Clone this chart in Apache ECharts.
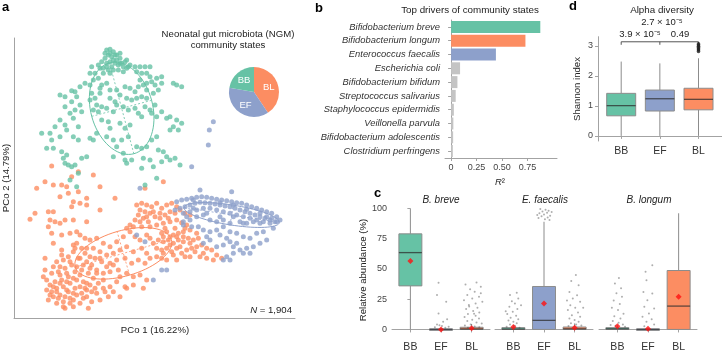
<!DOCTYPE html>
<html>
<head>
<meta charset="utf-8">
<script src="https://cdn.jsdelivr.net/npm/echarts@6/dist/echarts.min.js"></script>
<style>
  html, body { margin: 0; padding: 0; background: #fff; }
  #chart { width: 722px; height: 350px; }
</style>
</head>
<body>
<div id="chart"></div>
<script>
var GREEN = '#66C2A5', ORANGE = '#FC8D62', PURPLE = '#8DA0CB';
var states = ['BB', 'EF', 'BL'];
var stateColors = [GREEN, PURPLE, ORANGE];

// ---- a: PCoA ----
var pcoBB = [
  [-.14,.40],[-.13,.402],[-.12,.395],[-.135,.385],[-.125,.38],[-.11,.385],[-.10,.375],[-.145,.375],[-.155,.365],[-.13,.365],
  [-.115,.36],[-.095,.36],[-.085,.365],[-.075,.35],[-.14,.35],[-.16,.345],[-.12,.34],[-.105,.34],[-.09,.335],[-.15,.33],
  [-.13,.33],[-.08,.37],[-.07,.355],[-.165,.355],[-.11,.37],[-.10,.39],[-.13,.39],[-.145,.39],[-.09,.35],[-.135,.34],
  [-.12,.37],[-.105,.355],[-.14,.36],[-.125,.35],[-.10,.36],[-.115,.385],[-.15,.345],[-.08,.345],
  [-.055,.35],[-.04,.35],[-.025,.35],[-.01,.35],[-.05,.335],[-.035,.33],[-.02,.33],[.01,.315],[.025,.32],
  [-.185,.35],[-.19,.33],[-.175,.33],[-.18,.31],[-.165,.315],[-.19,.295],[-.155,.295],[-.14,.30],[-.205,.30],[-.22,.29],
  [-.235,.275],[-.245,.278],[-.16,.285],[-.185,.27],[-.16,.27],
  [-.01,.32],[-.005,.305],[.005,.295],[-.02,.30],[-.03,.295],[-.04,.31],[-.045,.29],[-.02,.28],[0,.27],[.015,.28],
  [.06,.30],[.07,.295],[.085,.29],[.025,.30],
  [-.13,.28],[-.11,.28],[-.085,.29],[-.07,.285],[-.055,.275],[-.10,.265],[-.08,.255],[-.065,.25],[-.05,.255],[-.035,.26],
  [-.02,.255],[-.13,.255],[-.115,.245],[-.175,.255],[-.19,.25],[-.17,.235],[-.155,.23],[-.18,.22],[-.165,.215],[-.14,.225],
  [-.12,.215],[-.11,.235],[-.09,.23],[-.075,.22],[-.055,.225],[-.045,.21],[-.025,.23],[-.01,.22],[.005,.235],[-.005,.21],
  [-.035,.20],[.01,.20],[.025,.215],[.04,.195],[.05,.20],[.07,.19],[.085,.18],[.075,.16],[.06,.17],[.05,.16],
  [-.28,.265],[-.265,.26],[-.245,.245],[-.23,.26],[-.22,.235],[-.235,.22],[-.215,.215],[-.25,.21],[-.265,.23],[-.24,.195],
  [-.28,.19],[-.265,.175],[-.225,.17],[-.26,.16],[-.24,.14],[-.295,.17],[-.31,.15],[-.305,.13],[-.335,.15],[-.32,.105],
  [-.30,.105],[-.28,.14],[-.275,.095],[-.27,.075],[-.26,.085],[-.255,.055],[-.245,.05],[-.265,.06],[-.235,.055],[-.215,.075],
  [-.20,.08],[-.225,.13],[-.19,.135],[-.18,.13],[-.17,.15],
  [-.155,.19],[-.135,.185],[-.13,.165],[-.14,.14],[-.12,.13],[-.10,.18],[-.085,.165],[-.07,.175],[-.075,.14],[-.095,.13],
  [-.11,.11],[-.12,.08],[-.09,.09],[-.08,.06],[-.065,.07],[-.05,.11],[-.035,.105],[-.02,.11],[-.005,.13],[.01,.14],
  [.015,.10],[.03,.095],[.04,.08],[.05,.07],[.065,.075],[.08,.055],[.025,.065],[-.03,.075],[-.01,.07],[-.035,.045],
  [0,.05],[.01,.015],[-.025,-.005],[-.23,-.01],[-.25,.01],[-.225,.03],[-.085,.07]
];
var pcoEF = [
  [.18,.185],[.168,.16],[.165,.115],[.115,.05],[-.04,-.015],[.14,-.02],[.235,-.025],
  [.07,-.055],[.085,-.05],[.10,-.048],[.115,-.045],[.13,-.042],[.145,-.04],[.16,-.042],[.175,-.045],[.19,-.048],[.205,-.05],
  [.22,-.052],[.235,-.055],[.25,-.058],[.265,-.06],[.28,-.065],[.295,-.07],[.31,-.075],[.325,-.08],[.34,-.085],[.355,-.09],
  [.37,-.10],[.38,-.11],[.365,-.115],[.35,-.11],[.335,-.105],[.32,-.10],[.305,-.095],[.29,-.09],[.275,-.085],[.26,-.08],
  [.245,-.075],[.23,-.07],[.215,-.068],[.20,-.065],[.185,-.062],[.17,-.06],[.155,-.058],[.14,-.057],[.125,-.06],[.11,-.065],
  [.095,-.07],[.08,-.075],[.065,-.08],[.09,-.09],[.11,-.085],[.13,-.08],[.15,-.075],[.17,-.075],[.19,-.08],[.21,-.085],
  [.23,-.09],[.25,-.095],[.27,-.10],[.29,-.105],[.31,-.11],[.33,-.115],[.35,-.12],[.13,-.10],[.15,-.095],[.17,-.11],
  [.19,-.115],[.21,-.11],[.26,-.115],[.28,-.12],[.32,-.12],[.11,-.11],[.09,-.115],
  [.12,-.05],[.20,-.058],[.24,-.065],[.28,-.078],[.32,-.09],[.34,-.10],[.355,-.105],[.30,-.115],[.24,-.10],[.20,-.10],
  [.16,-.09],[.12,-.075],[.27,-.12],[.23,-.12],[.37,-.115],[.10,-.10],[.20,-.155],[.22,-.165],[.24,-.19],
  [.135,-.13],[.15,-.14],[.17,-.145],[.19,-.14],[.21,-.13],[.23,-.145],[.25,-.15],[.27,-.16],[.29,-.165],[.31,-.15],
  [.33,-.145],[.36,-.135],[.34,-.17],[.32,-.18],[.30,-.19],[.28,-.195],[.26,-.20],[.24,-.21],[.22,-.22],[.21,-.23],
  [.23,-.23],[.27,-.21],[.29,-.21],[.17,-.17],[.19,-.19],[.21,-.185],[.23,-.175],[.25,-.18],[.15,-.18],[.16,-.16],
  [.115,-.13],[.04,-.26],[.025,-.26],[0,-.29],[-.025,-.175],[-.05,-.155],[.09,-.125]
];
var pcoBL = [
  [-.305,.052],[-.325,.005],[-.35,-.015],[-.30,-.005],[-.275,-.005],[-.26,-.01],[-.245,.02],[-.225,.035],[-.18,.025],[-.16,-.01],
  [-.225,-.025],[-.28,-.04],[-.255,-.03],[-.24,-.055],[-.245,-.07],[-.22,-.06],[-.20,-.045],[-.20,-.065],[-.115,-.045],[-.16,-.08],
  [-.355,-.09],[-.37,-.108],[-.315,-.085],[-.30,-.085],[-.31,-.11],[-.295,-.115],[-.315,-.13],[-.28,-.12],[-.265,-.11],[-.24,-.11],
  [-.20,-.115],[-.305,-.15],[-.275,-.155],[-.25,-.15],[-.23,-.145],[-.30,-.18],[-.325,-.225],[.03,.005],[-.025,-.015],
  [-.05,-.065],[-.035,-.06],[-.02,-.065],[-.005,-.07],[.01,-.06],[.025,-.075],[.04,-.065],[.055,-.06],[.07,-.07],[-.04,-.08],
  [-.025,-.085],[-.01,-.09],[-.045,-.095],[-.055,-.11],[-.03,-.105],[-.015,-.115],[.005,-.10],[.02,-.09],[.035,-.095],[.05,-.085],
  [.065,-.09],[.08,-.08],[.095,-.09],[.11,-.095],[-.07,-.125],[-.08,-.135],[-.06,-.13],[-.035,-.13],[-.01,-.13],[.01,-.125],
  [.03,-.12],[.05,-.115],[.07,-.11],[.085,-.118],[.10,-.125],
  [.035,-.135],[.065,-.135],[.095,-.135],[.02,-.105],[.045,-.105],[0,-.085],[-.02,-.10],[-.04,-.115],
  [.025,-.15],[.04,-.145],[.06,-.155],[.075,-.15],[.09,-.145],[.11,-.14],[.13,-.15],[.015,-.17],[.03,-.175],[.045,-.17],
  [.06,-.18],[.075,-.17],[.09,-.175],[.105,-.165],[.12,-.17],[.135,-.165],[.01,-.195],[.025,-.20],[.04,-.195],[.055,-.205],
  [.07,-.195],[.085,-.21],[.10,-.20],[.115,-.195],[.13,-.19],[.145,-.185],[.16,-.195],[.175,-.20],[.19,-.215],[.205,-.225],
  [.16,-.225],[.18,-.23],[.14,-.22],[.11,-.22],[.025,-.225],[.04,-.23],[.01,-.22],[.07,-.23],
  [.03,-.16],[.05,-.16],[.07,-.16],[.09,-.16],[.05,-.185],[.08,-.19],[.11,-.18],[.03,-.21],[.06,-.215],[.095,-.22],
  [.125,-.205],[.15,-.21],
  [-.19,-.17],[-.17,-.165],[-.15,-.18],[-.13,-.19],[-.11,-.175],[-.09,-.16],[-.07,-.145],[-.055,-.16],[-.04,-.17],[-.02,-.155],
  [-.01,-.165],[0,-.18],[-.18,-.195],[-.16,-.205],[-.14,-.215],[-.12,-.21],[-.10,-.20],[-.08,-.19],[-.06,-.205],[-.035,-.195],
  [-.02,-.21],[-.175,-.225],[-.155,-.235],[-.13,-.24],[-.11,-.23],[-.085,-.225],[-.065,-.24],[-.045,-.23],[-.025,-.24],[-.01,-.225],
  [-.17,-.26],[-.15,-.27],[-.13,-.265],[-.105,-.26],[-.08,-.27],[-.06,-.28],[-.04,-.275],[-.02,-.29],[-.11,-.295],[-.085,-.31],
  [-.06,-.305],[-.13,-.31],[-.15,-.315],[-.17,-.33],[-.135,-.34],[-.10,-.34],[-.08,-.315],[-.03,-.315],
  [-.23,-.18],[-.215,-.195],[-.205,-.21],[-.24,-.205],[-.255,-.22],[-.27,-.23],[-.29,-.235],[-.225,-.225],[-.20,-.235],[-.185,-.245],
  [-.245,-.245],[-.265,-.255],[-.285,-.265],[-.305,-.27],[-.235,-.265],[-.215,-.26],[-.195,-.27],[-.18,-.285],[-.255,-.28],[-.275,-.29],
  [-.295,-.295],[-.31,-.305],[-.32,-.32],[-.29,-.315],[-.27,-.31],[-.25,-.30],[-.23,-.29],[-.21,-.295],[-.19,-.305],[-.175,-.315],
  [-.235,-.315],[-.255,-.325],[-.28,-.335],[-.30,-.34],[-.315,-.35],[-.29,-.36],[-.27,-.355],[-.25,-.345],[-.23,-.335],[-.215,-.33],
  [-.20,-.34],[-.185,-.355],[-.24,-.37],[-.265,-.375],[-.22,-.36],[-.16,-.35],[-.195,-.375],[-.325,-.26],[-.33,-.28],[-.205,-.165],
  [-.22,-.155],[-.24,-.185],[-.275,-.20],[-.19,-.22],[-.28,-.275],[-.26,-.295],[-.22,-.275],[-.24,-.33],[-.305,-.325],[-.205,-.315],
  [-.265,-.34],[-.285,-.345],
  [-.30,-.25],[-.28,-.25],[-.26,-.27],[-.24,-.285],[-.22,-.31],[-.20,-.32],[-.28,-.30],[-.30,-.31],[-.32,-.29],[-.26,-.32],
  [-.24,-.35],[-.21,-.345],[-.27,-.37],[-.25,-.36],[-.29,-.325],[-.31,-.335],[-.23,-.25],[-.21,-.245],[-.19,-.255],[-.17,-.27],
  [-.165,-.30],[-.15,-.29],[-.20,-.30],[-.22,-.225],[-.25,-.235],[-.275,-.215],[-.235,-.195],[-.20,-.195],[-.16,-.225],[-.14,-.25],
  [-.12,-.245],[-.10,-.28],[-.12,-.325],[-.145,-.325],[-.185,-.325]
];
// ellipses: [centre x, centre y, semi-major, semi-minor, angle deg]
var ellipseBB = [-0.095, 0.225, 0.141, 0.093, 105];
var ellipseEF = [0.235, -0.095, 0.145, 0.03, -9];
var ellipseBL = [-0.09, -0.21, 0.15, 0.068, 16];
var stateCounts = { BL: 773, EF: 707, BB: 424 };

// ---- b: top drivers ----
var drivers = ['Bifidobacterium breve', 'Bifidobacterium longum', 'Enterococcus faecalis', 'Escherichia coli',
  'Bifidobacterium bifidum', 'Streptococcus salivarius', 'Staphylococcus epidermidis', 'Veillonella parvula',
  'Bifidobacterium adolescentis', 'Clostridium perfringens'];
var driverR2 = [0.876, 0.73, 0.44, 0.088, 0.062, 0.045, 0.027, 0.022, 0.02, 0.017];
var driverState = ['BB', 'BL', 'EF', null, null, null, null, null, null, null];
var r2Ticks = [0, 0.25, 0.5, 0.75];
var r2TickLabels = ['0', '0.25', '0.50', '0.75'];

// ---- c: relative abundance, [state index, min, q1, median, q3, max] ----
var breveBoxes = [[0, 0, 36, 63.5, 79, 100], [1, 0, 0, 0, 0.5, 1.2], [2, 0, 0, 0.4, 1.8, 4.5]];
var faecalisBoxes = [[0, 0, 0, 0.3, 1.5, 3.5], [1, 0, 0, 7.5, 35.5, 89], [2, 0, 0, 0.5, 2, 5]];
var longumBoxes = [[0, 0, 0, 0.5, 1.5, 3.5], [1, 0, 0, 0, 0.5, 1.2], [2, 0, 0, 19.3, 48.7, 96]];
var breveMeans = [[0, 56.5], [1, 0], [2, 1]];
var faecalisMeans = [[0, 2], [1, 21.5], [2, 1.5]];
var longumMeans = [[0, 2.7], [1, 0.5], [2, 27]];
var breveOut = [
  [0.92,38.6],[0.87,28.4],[1.17,22.9],[0.92,13.2],[1.2,8.5],[1.07,6.3],[0.87,4],[1.03,2.8],[1.14,1.4],[0.8,1.8],[1.25,2.2],[0.95,3.5],
  [2.16,38.8],[1.8,37.2],[2.3,35.3],[1.95,33.3],[2.1,31.1],[1.86,28.4],[2.24,27],[2.02,25.6],[1.75,24.2],[2.35,22.9],
  [2.13,21.5],[1.91,20.1],[2.19,17.9],[1.82,16.8],[2.05,15.2],[2.25,14],[1.88,12.7],[2.13,11.3],[1.77,10.2],[2.24,9.1],
  [2.02,8],[1.86,6.9],[2.16,5.8],[2.33,5],[1.97,4.1],[1.78,3.3],[2.1,2.5],[2.25,1.9],[1.88,1.4],[2.3,30],[1.92,19],[2.08,13]
];
var faecalisOut = [
  [0.11,30.3],[-0.11,28.4],[0.16,25.6],[-0.05,23.4],[0.05,21.5],[-0.13,18.7],[0.13,16.8],[-0.02,14.6],[-0.2,12.7],[0.09,11.3],
  [-0.09,9.6],[0.16,8.5],[-0.16,7.4],[0,6.3],[0.11,5.2],[-0.11,4.1],[0.05,3],[-0.22,2.2],[0.2,1.4],[0.25,20],[-0.25,15],
  [0.88,99.5],[1.05,99],[1.15,98],[0.95,97.5],[1.1,96.5],[0.85,96],[1,95],[1.2,94],[0.92,93.5],[1.12,92.5],[0.82,92],
  [1.03,91],[1.18,90.5],[1.25,97],[0.78,94.5],
  [2.04,45],[1.89,40],[2.13,36.6],[1.83,31],[2.08,28.3],[1.94,25.6],[2.18,22.8],[1.86,20],[2.02,17.9],[1.78,16],[2.11,14],
  [1.91,11.8],[2.18,10.4],[1.83,9.1],[2,7.7],[2.13,6.3],[1.88,5.2],[2.05,4.1],[2.22,3.2],[1.8,2.8],[2.28,18],[1.75,24]
];
var longumOut = [
  [0.05,42.6],[-0.08,38],[0.12,34],[-0.03,30],[0.15,27],[-0.12,24],[0.08,21],[-0.18,18],[0.02,16],[0.2,13],[-0.1,11],
  [0.1,9],[-0.15,7],[0.04,5.5],[0.18,4],[-0.06,3],[0.25,2.2],[-0.22,3.6],
  [1.14,53],[0.92,47.6],[0.95,40.7],[0.85,31],[1.14,29.7],[0.98,24.2],[0.88,18.7],[1.2,17.3],[1.03,13.2],[0.82,10.4],
  [1.12,8.5],[0.95,6.3],[1.2,4.1],[0.88,2.7]
];
var abundTicks = [0, 25, 50, 75, 100];

// ---- d: Shannon index ----
var shannonBoxes = [[0, 0, 0.67, 1.01, 1.42, 2.48], [1, 0, 0.83, 1.24, 1.53, 2.42], [2, 0, 0.87, 1.22, 1.59, 2.59]];
var shannonOut = [[2, 2.82], [2, 2.87], [2, 2.91], [2, 2.95], [2, 2.99], [2, 3.03], [2, 3.07]];
var shannonTicks = [0, 1, 2, 3];
var bracketY = [3.04, 3.14];

var FONT = 'Liberation Sans, Arial, sans-serif';
var AXIS_GREY = '#a3a3a3';

function boxItem(params, api) {
  var i = api.value(0);
  var w = api.size([0.75, 0])[0] / 2;
  var lo = api.coord([i, api.value(1)]);
  var q1 = api.coord([i, api.value(2)]);
  var med = api.coord([i, api.value(3)]);
  var q3 = api.coord([i, api.value(4)]);
  var hi = api.coord([i, api.value(5)]);
  var cx = med[0];
  var grey = '#8c8c8c';
  return {
    type: 'group',
    children: [
      { type: 'line', shape: { x1: cx, y1: hi[1], x2: cx, y2: q3[1] }, style: { stroke: grey, lineWidth: 1 } },
      { type: 'line', shape: { x1: cx, y1: q1[1], x2: cx, y2: lo[1] }, style: { stroke: grey, lineWidth: 1 } },
      { type: 'rect', shape: { x: cx - w, y: q3[1], width: 2 * w, height: Math.max(q1[1] - q3[1], 1.5) },
        style: { fill: stateColors[i], stroke: grey, lineWidth: 1 } },
      { type: 'line', shape: { x1: cx - w, y1: med[1], x2: cx + w, y2: med[1] },
        style: { stroke: 'rgba(45,45,45,0.75)', lineWidth: 1.3 } }
    ]
  };
}

function ellipseItem(color) {
  return function (params, api) {
    var cx = api.value(0), cy = api.value(1), a = api.value(2), b = api.value(3);
    var th = api.value(4) * Math.PI / 180;
    var pts = [];
    for (var k = 0; k <= 72; k++) {
      var t = k / 72 * Math.PI * 2;
      pts.push(api.coord([cx + a * Math.cos(t) * Math.cos(th) - b * Math.sin(t) * Math.sin(th),
                          cy + a * Math.cos(t) * Math.sin(th) + b * Math.sin(t) * Math.cos(th)]));
    }
    var m1 = api.coord([cx - a * Math.cos(th), cy - a * Math.sin(th)]);
    var m2 = api.coord([cx + a * Math.cos(th), cy + a * Math.sin(th)]);
    var n1 = api.coord([cx + b * Math.sin(th), cy - b * Math.cos(th)]);
    var n2 = api.coord([cx - b * Math.sin(th), cy + b * Math.cos(th)]);
    return {
      type: 'group',
      children: [
        { type: 'polyline', shape: { points: pts }, style: { stroke: color, lineWidth: 1, fill: null } },
        { type: 'line', shape: { x1: m1[0], y1: m1[1], x2: m2[0], y2: m2[1] }, style: { stroke: color, lineWidth: 0.8, lineDash: [2, 2] } },
        { type: 'line', shape: { x1: n1[0], y1: n1[1], x2: n2[0], y2: n2[1] }, style: { stroke: color, lineWidth: 0.8, lineDash: [2, 2] } }
      ]
    };
  };
}

function text(t, x, y, opts) {
  opts = opts || {};
  return {
    type: 'text', x: x, y: y, rotation: opts.rotation || 0, z: 100,
    style: {
      text: t, x: 0, y: 0,
      fill: opts.color || '#222',
      font: (opts.italic ? 'italic ' : '') + (opts.bold ? 'bold ' : '') + (opts.size || 9) + 'px ' + FONT,
      textAlign: opts.align || 'center', textVerticalAlign: 'middle',
      align: opts.align || 'center', verticalAlign: 'middle',
      rich: opts.rich
    }
  };
}

var cGrids = [
  { left: 392, top: 203.6, width: 98, height: 133.1 },
  { left: 495, top: 203.6, width: 98, height: 133.1 },
  { left: 599, top: 203.6, width: 98, height: 133.1 }
];

function catXAxis(gridIndex, min, max) {
  return {
    type: 'value', gridIndex: gridIndex, min: min, max: max,
    axisLine: { show: true, lineStyle: { color: AXIS_GREY } },
    axisTick: { show: true, length: 3, lineStyle: { color: AXIS_GREY }, customValues: [0, 1, 2] },
    axisLabel: { color: '#333', fontSize: 10.5, margin: 5, customValues: [0, 1, 2],
      formatter: function (v) { return states[Math.round(v)]; } },
    splitLine: { show: false }
  };
}

var xAxes = [
  { type: 'value', gridIndex: 0, min: -0.418, max: 0.425, axisLine: { show: true, onZero: false, lineStyle: { color: AXIS_GREY } },
    axisTick: { show: false }, axisLabel: { show: false }, splitLine: { show: false } },
  { type: 'value', gridIndex: 1, min: -0.06, max: 1.04,
    axisLine: { show: true, onZero: false, lineStyle: { color: AXIS_GREY } },
    axisTick: { show: true, length: 3, lineStyle: { color: AXIS_GREY }, customValues: r2Ticks },
    axisLabel: { color: '#444', fontSize: 9, margin: 5, customValues: r2Ticks,
      formatter: function (v) { return r2TickLabels[r2Ticks.indexOf(v)]; } },
    splitLine: { show: false } },
  catXAxis(2, -0.6, 2.6), catXAxis(3, -0.6, 2.6), catXAxis(4, -0.6, 2.6),
  catXAxis(5, -0.6, 2.6)
];

function abundY(gridIndex, show) {
  return {
    type: 'value', gridIndex: gridIndex, min: -6, max: 104,
    axisLine: { show: false },
    axisTick: { show: show, length: 3, lineStyle: { color: AXIS_GREY }, customValues: abundTicks },
    axisLabel: { show: show, color: '#444', fontSize: 9, margin: 5, customValues: abundTicks },
    splitLine: { show: false }
  };
}

var yAxes = [
  { type: 'value', gridIndex: 0, min: -0.404, max: 0.436, axisLine: { show: true, onZero: false, lineStyle: { color: AXIS_GREY } },
    axisTick: { show: false }, axisLabel: { show: false }, splitLine: { show: false } },
  { type: 'category', gridIndex: 1, data: drivers, inverse: true,
    axisLine: { show: true, lineStyle: { color: AXIS_GREY } },
    axisTick: { show: true, length: 3, alignWithLabel: true, lineStyle: { color: AXIS_GREY } },
    axisLabel: { color: '#333', fontSize: 9.4, fontStyle: 'italic', margin: 5 } },
  abundY(2, true), abundY(3, false), abundY(4, false),
  { type: 'value', gridIndex: 5, min: -0.17, max: 3.31,
    axisLine: { show: true, onZero: false, lineStyle: { color: AXIS_GREY } },
    axisTick: { show: true, length: 3, lineStyle: { color: AXIS_GREY }, customValues: shannonTicks },
    axisLabel: { color: '#444', fontSize: 9, margin: 5, customValues: shannonTicks },
    splitLine: { show: false } }
];

var series = [
  { type: 'scatter', xAxisIndex: 0, yAxisIndex: 0, data: pcoBL, symbolSize: 5, itemStyle: { color: ORANGE }, z: 2 },
  { type: 'scatter', xAxisIndex: 0, yAxisIndex: 0, data: pcoBB, symbolSize: 5, itemStyle: { color: GREEN }, z: 2 },
  { type: 'scatter', xAxisIndex: 0, yAxisIndex: 0, data: pcoEF, symbolSize: 5, itemStyle: { color: PURPLE }, z: 2 },
  { type: 'custom', xAxisIndex: 0, yAxisIndex: 0, data: [ellipseBB], renderItem: ellipseItem(GREEN), z: 5, silent: true },
  { type: 'custom', xAxisIndex: 0, yAxisIndex: 0, data: [ellipseEF], renderItem: ellipseItem(PURPLE), z: 5, silent: true },
  { type: 'custom', xAxisIndex: 0, yAxisIndex: 0, data: [ellipseBL], renderItem: ellipseItem(ORANGE), z: 5, silent: true },
  { type: 'pie', center: [254, 92], radius: 25, startAngle: 90, clockwise: true, silent: true,
    itemStyle: { borderWidth: 0 },
    label: { show: true, position: 'inside', color: '#fff', fontSize: 9.5, fontFamily: FONT, formatter: '{b}' },
    labelLine: { show: false },
    data: [
      { name: 'BL', value: stateCounts.BL, itemStyle: { color: ORANGE } },
      { name: 'EF', value: stateCounts.EF, itemStyle: { color: PURPLE } },
      { name: 'BB', value: stateCounts.BB, itemStyle: { color: GREEN } }
    ] },
  { type: 'bar', xAxisIndex: 1, yAxisIndex: 1, barWidth: 12,
    data: driverR2.map(function (v, i) {
      var s = driverState[i];
      return { value: v, itemStyle: { color: s ? stateColors[states.indexOf(s)] : '#c4c4c4' } };
    }) }
];

[[breveBoxes, breveOut, breveMeans], [faecalisBoxes, faecalisOut, faecalisMeans], [longumBoxes, longumOut, longumMeans]]
  .forEach(function (f, k) {
    series.push({ type: 'custom', xAxisIndex: 2 + k, yAxisIndex: 2 + k, data: f[0], renderItem: boxItem, z: 2 });
    series.push({ type: 'scatter', xAxisIndex: 2 + k, yAxisIndex: 2 + k, data: f[1], symbolSize: 2,
      itemStyle: { color: 'rgba(70,70,70,0.55)' }, z: 3 });
    series.push({ type: 'scatter', xAxisIndex: 2 + k, yAxisIndex: 2 + k, data: f[2], symbol: 'diamond', symbolSize: 6,
      itemStyle: { color: '#ff1010' }, z: 4 });
  });

series.push({ type: 'custom', xAxisIndex: 5, yAxisIndex: 5, data: shannonBoxes, renderItem: boxItem, z: 2 });
series.push({ type: 'scatter', xAxisIndex: 5, yAxisIndex: 5, data: shannonOut, symbolSize: 3.6,
  itemStyle: { color: '#222' }, z: 3 });
series.push({ type: 'line', xAxisIndex: 5, yAxisIndex: 5, clip: false, symbol: 'none',
  lineStyle: { color: '#555', width: 1 },
  data: [[0, bracketY[0]], [0, bracketY[1]], [2, bracketY[1]], [2, bracketY[0]]] });
series.push({ type: 'line', xAxisIndex: 5, yAxisIndex: 5, clip: false, symbol: 'none',
  lineStyle: { color: '#555', width: 1 },
  data: [[1, bracketY[0]], [1, bracketY[1]]] });

var chart = echarts.init(document.getElementById('chart'), null, { renderer: 'canvas' });
chart.setOption({
  animation: false,
  backgroundColor: '#fff',
  textStyle: { fontFamily: FONT },
  grid: [
    { left: 14, top: 38, width: 281, height: 280, outerBoundsMode: 'none' },
    { left: 445, top: 20, width: 112, height: 138, outerBoundsMode: 'none' },
    Object.assign({ outerBoundsMode: 'none' }, cGrids[0]),
    Object.assign({ outerBoundsMode: 'none' }, cGrids[1]),
    Object.assign({ outerBoundsMode: 'none' }, cGrids[2]),
    { left: 598, top: 36.7, width: 123.7, height: 104.3, outerBoundsMode: 'none' }
  ],
  xAxis: xAxes,
  yAxis: yAxes,
  series: series,
  graphic: [
    text('a', 2, 7, { bold: true, size: 13, align: 'left', color: '#000' }),
    text('b', 315, 8, { bold: true, size: 13, align: 'left', color: '#000' }),
    text('c', 374, 193, { bold: true, size: 13, align: 'left', color: '#000' }),
    text('d', 569, 6, { bold: true, size: 13, align: 'left', color: '#000' }),
    text('Neonatal gut microbiota (NGM)', 228, 34, { size: 9.6 }),
    text('community states', 228, 45, { size: 9.6 }),
    text('PCo 2 (14.79%)', 6, 178, { size: 9.6, rotation: Math.PI / 2 }),
    text('PCo 1 (16.22%)', 155, 330, { size: 9.6 }),
    text('{i|N} = 1,904', 292, 310, { size: 9.6, align: 'right', rich: { i: { fontStyle: 'italic', fontSize: 9.6, fontFamily: FONT } } }),
    text('Top drivers of community states', 470, 10, { size: 9.8 }),
    text('{i|R}²', 500, 182, { size: 9.5, rich: { i: { fontStyle: 'italic', fontSize: 9.5, fontFamily: FONT } } }),
    text('Alpha diversity', 662, 10, { size: 9.8 }),
    text('2.7 × 10⁻⁵', 662, 22, { size: 9.5 }),
    text('3.9 × 10⁻⁵', 640, 34, { size: 9.5 }),
    text('0.49', 680, 34, { size: 9.5 }),
    text('Shannon index', 577, 89, { size: 9.6, rotation: Math.PI / 2 }),
    text('Relative abundance (%)', 363, 270, { size: 9.6, rotation: Math.PI / 2 }),
    text('B. breve', 441, 200, { size: 10, italic: true }),
    text('E. faecalis', 545, 200, { size: 10, italic: true }),
    text('B. longum', 649, 200, { size: 10, italic: true })
  ]
});
</script>
</body>
</html>
